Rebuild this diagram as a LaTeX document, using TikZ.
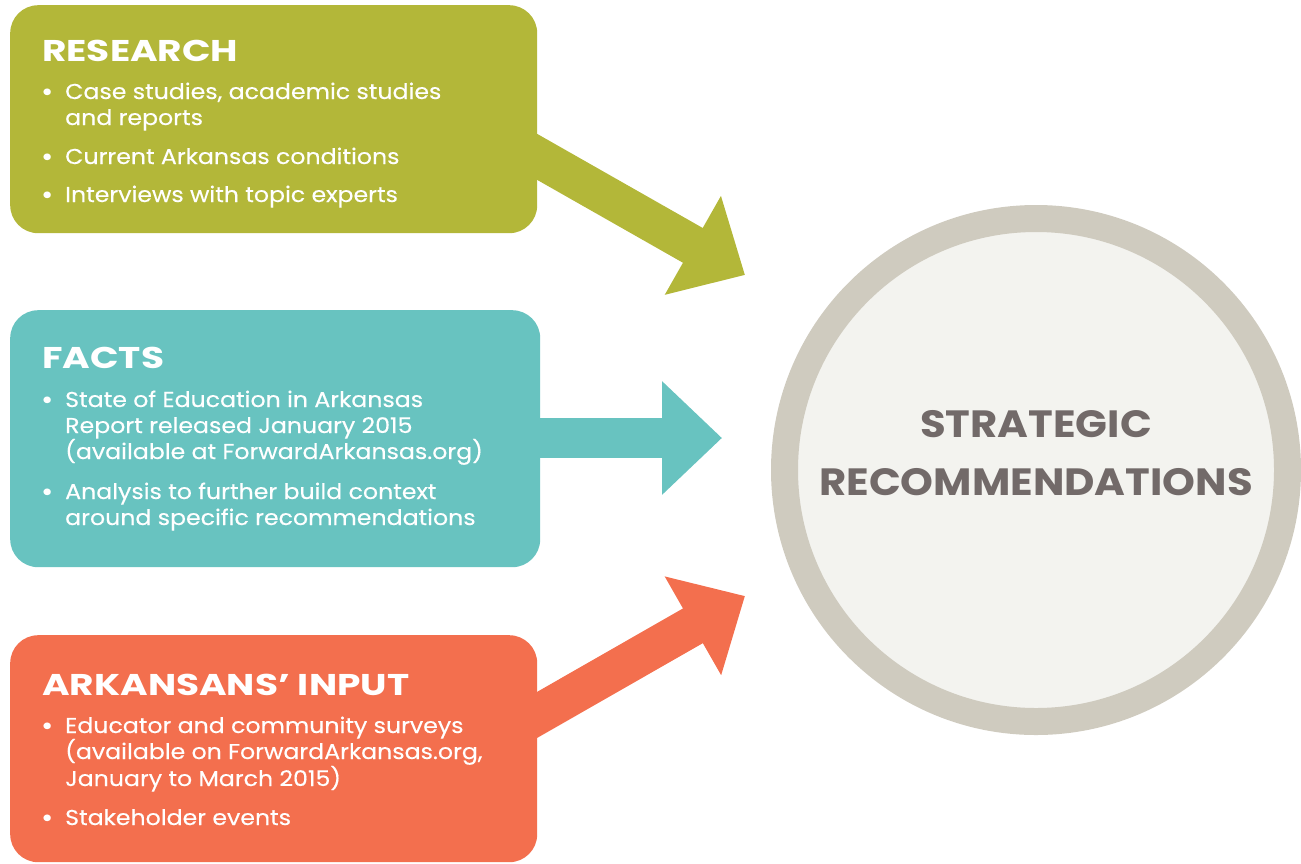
\documentclass[tikz,border=0pt]{standalone}
\usepackage{fontspec}
\setmainfont{Poppins}
\newfontfamily\bodyfont{Poppins}[FakeStretch=1.1, FakeBold=0.3]
\newfontfamily\headfont{Poppins}[FakeStretch=1.25]
\newfontfamily\goalfont{Poppins}[FakeStretch=1.1]
\usepackage{xcolor}
\usetikzlibrary{arrows.meta,backgrounds,positioning}

\definecolor{resgreen}{HTML}{B3B739}
\definecolor{factteal}{HTML}{68C3C0}
\definecolor{inputorange}{HTML}{F36F4E}
\definecolor{ringgrey}{HTML}{CFCBBF}
\definecolor{corefill}{HTML}{F3F3EF}
\definecolor{titlegrey}{HTML}{726A69}

\tikzset{
  infobox/.style={rounded corners=28pt, anchor=north west, inner sep=0pt},
  heading/.style={anchor=base west, inner sep=0pt, text=white, font=\headfont\bfseries\fontsize{30}{30}\selectfont},
  bodyline/.style={anchor=base west, inner sep=0pt, text=white, font=\bodyfont\fontsize{21.5}{26}\selectfont},
  goaltext/.style={anchor=base, inner sep=0pt, text=titlegrey, font=\goalfont\bfseries\fontsize{38}{38}\selectfont},
  bigarrow/.style={line width=40pt, -{Triangle[length=60pt,width=110pt]}},
}

\begin{document}
\begin{tikzpicture}[x=1pt,y=-1pt]
    \useasboundingbox (0,0) rectangle (1301,863);

    % Input boxes
    \node[infobox, fill=resgreen, minimum width=527pt, minimum height=228pt] (research) at (10,5) {};
    \node[infobox, fill=factteal, minimum width=530pt, minimum height=257pt] (facts) at (10,310) {};
    \node[infobox, fill=inputorange, minimum width=527pt, minimum height=227pt] (input) at (10,635) {};

    % Research
    \node[heading] (reshead) at (42,61) {RESEARCH};
    \foreach \txt/\yy [count=\i] in {{Case studies, academic studies}/99, and reports/125,
        Current Arkansas conditions/164, Interviews with topic experts/202}
        \node[bodyline] (res\i) at (65,\yy) {\txt};
    \foreach \yy [count=\i] in {99,164,202}
        \node[bodyline] (resdot\i) at (41,\yy) {\textbf{•}};

    % Facts
    \node[heading] (facthead) at (42,368) {FACTS};
    \foreach \txt/\yy [count=\i] in {State of Education in Arkansas/407, Report released January 2015/433,
        (available at ForwardArkansas.org)/459, Analysis to further build context/499,
        around specific recommendations/525}
        \node[bodyline] (fact\i) at (65,\yy) {\txt};
    \foreach \yy [count=\i] in {407,499}
        \node[bodyline] (factdot\i) at (41,\yy) {\textbf{•}};

    % Arkansans' input
    \node[heading] (inhead) at (42,695) {ARKANSANS’ INPUT};
    \foreach \txt/\yy [count=\i] in {Educator and community surveys/733, {(available on ForwardArkansas.org,}/759,
        January to March 2015)/786, Stakeholder events/825}
        \node[bodyline] (in\i) at (65,\yy) {\txt};
    \foreach \yy [count=\i] in {733,825}
        \node[bodyline] (indot\i) at (41,\yy) {\textbf{•}};

    % Goal circle
    \node[circle, draw=ringgrey, line width=27pt, fill=corefill, minimum size=503pt, inner sep=0pt] (goal) at (1036,470) {};
    \node[goaltext] (goal1) at (1036,437) {STRATEGIC};
    \node[goaltext] (goal2) at (1036,495) {RECOMMENDATIONS};

    % Arrows
    \coordinate (resout) at (467,117);
    \coordinate (restip) at (745,275);
    \coordinate (factout) at (480,438);
    \coordinate (facttip) at (722,438);
    \coordinate (inout) at (467,755);
    \coordinate (intip) at (745,596);
    \begin{scope}[on background layer]
        \draw[bigarrow, resgreen] (resout) -- (restip);
        \draw[bigarrow, factteal] (factout) -- (facttip);
        \draw[bigarrow, inputorange] (inout) -- (intip);
    \end{scope}
\end{tikzpicture}
\end{document}
